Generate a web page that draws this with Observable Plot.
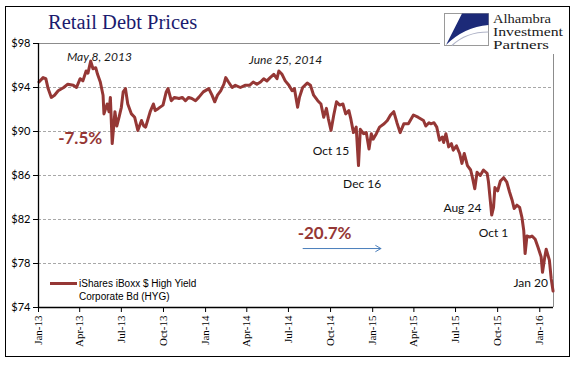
<!DOCTYPE html>
<html>
<head>
<meta charset="utf-8">
<script src="https://cdn.jsdelivr.net/npm/d3@7"></script>
<script src="https://cdn.jsdelivr.net/npm/@observablehq/plot@0.6"></script>
<style>
  body { margin: 0; background: #fff; }
  #wrap { position: relative; width: 577px; height: 378px; overflow: hidden; background: #fff; }
  #chart { position: absolute; left: 0; top: 0; }
  #frame { position: absolute; left: 5px; top: 6px; width: 565px; height: 351px; border: 1.5px solid #000; box-sizing: border-box; pointer-events: none; }
  #title { position: absolute; left: 48px; top: 10px; font-family: "Liberation Serif", serif; font-size: 20.5px; line-height: 24px; color: #1b1b6e; white-space: nowrap; }
  #logo { position: absolute; left: 440px; top: 8px; }
  #legline { position: absolute; left: 50px; top: 282px; width: 27px; height: 3px; background: #953735; }
  #legtext { position: absolute; left: 79px; top: 277px; font-family: "Liberation Sans", Arial, sans-serif; font-size: 10px; line-height: 13px; color: #000; white-space: nowrap; }
  svg [aria-label^="x-axis"] text { font-family: "Liberation Serif", serif; font-size: 11px; }
  svg [aria-label^="y-axis"] text { font-family: Lato, sans-serif; font-size: 11px; }
</style>
</head>
<body>
<div id="wrap">
  <div id="chart"></div>
  <div id="title">Retail Debt Prices</div>
  <svg id="logo" width="132" height="46">
    <rect x="0" y="0" width="132" height="46" fill="#fff"></rect>
    <rect x="4.5" y="5.5" width="44" height="32" fill="#fff" stroke="#9a9a9a" stroke-width="1"></rect>
    <path d="M22,5.5 L48.5,5.5 L48.5,17 Q24,19 6,37 Z" fill="#1c2a78"></path>
    <path d="M12,37.5 Q26,24 48.5,24" fill="none" stroke="#b0b4c8" stroke-width="1.2"></path>
    <text x="53" y="14.5" font-family="Liberation Serif, serif" font-size="12" fill="#1a1a1a" textLength="58" lengthAdjust="spacingAndGlyphs">Alhambra</text>
    <text x="53" y="27.8" font-family="Liberation Serif, serif" font-size="12" fill="#1a1a1a" textLength="70" lengthAdjust="spacingAndGlyphs">Investment</text>
    <text x="53" y="41.1" font-family="Liberation Serif, serif" font-size="12" fill="#1a1a1a" textLength="56" lengthAdjust="spacingAndGlyphs">Partners</text>
  </svg>
  <div id="legline"></div>
  <div id="legtext">iShares iBoxx $ High Yield<br>Corporate Bd (HYG)</div>
  <div id="frame"></div>
</div>
<script>
// ---- data ----
const dates = [
  "2013-01-02","2013-01-11","2013-01-17","2013-01-22","2013-01-29","2013-02-05","2013-02-13","2013-02-25",
  "2013-03-06","2013-03-18","2013-03-25","2013-04-02","2013-04-08","2013-04-15","2013-04-19","2013-04-25",
  "2013-04-30","2013-05-06","2013-05-10","2013-05-16","2013-05-22","2013-05-24","2013-05-31","2013-06-04",
  "2013-06-07","2013-06-11","2013-06-17","2013-06-21","2013-06-26","2013-07-01","2013-07-05","2013-07-10",
  "2013-07-15","2013-07-23","2013-07-30","2013-08-06","2013-08-14","2013-08-19","2013-08-23","2013-09-02",
  "2013-09-09","2013-09-13","2013-09-20","2013-09-30","2013-10-07","2013-10-11","2013-10-18","2013-10-25",
  "2013-11-04","2013-11-11","2013-11-18","2013-11-25","2013-12-02","2013-12-10","2013-12-17","2013-12-27",
  "2014-01-08","2014-01-15","2014-01-21","2014-01-27","2014-02-03","2014-02-10","2014-02-14","2014-02-20",
  "2014-02-28","2014-03-07","2014-03-18","2014-03-28","2014-04-07","2014-04-15","2014-04-23","2014-05-01",
  "2014-05-08","2014-05-15","2014-05-22","2014-05-30","2014-06-06","2014-06-10","2014-06-17","2014-06-24",
  "2014-07-02","2014-07-09","2014-07-14","2014-07-21","2014-07-25","2014-08-01","2014-08-11","2014-08-18",
  "2014-08-25","2014-09-03","2014-09-10","2014-09-16","2014-09-22","2014-09-26","2014-10-02","2014-10-08",
  "2014-10-14","2014-10-21","2014-10-28","2014-11-03","2014-11-10","2014-11-14","2014-11-20","2014-11-26",
  "2014-12-01","2014-12-05","2014-12-12","2014-12-18","2014-12-24","2014-12-29",
  "2015-01-02","2015-01-09","2015-01-16","2015-01-26","2015-02-02","2015-02-09","2015-02-16","2015-02-23",
  "2015-03-02","2015-03-10","2015-03-20","2015-03-31","2015-04-10","2015-04-22","2015-04-27","2015-05-04",
  "2015-05-08","2015-05-15","2015-05-21","2015-05-27","2015-06-02","2015-06-05","2015-06-10","2015-06-16",
  "2015-06-22","2015-06-26","2015-07-03","2015-07-10","2015-07-15","2015-07-20","2015-07-27","2015-08-03",
  "2015-08-07","2015-08-12","2015-08-17","2015-08-24","2015-08-31","2015-09-08","2015-09-11","2015-09-15",
  "2015-09-18","2015-09-22","2015-09-25","2015-10-01","2015-10-07","2015-10-14","2015-10-21","2015-10-27",
  "2015-11-02","2015-11-06","2015-11-12","2015-11-18","2015-11-23","2015-11-27","2015-11-30","2015-12-04",
  "2015-12-10","2015-12-15","2015-12-22","2015-12-28",
  "2016-01-04","2016-01-07","2016-01-12","2016-01-15","2016-01-22","2016-01-26","2016-01-30"
];
const prices = [
  94.5,94.9,94.8,93.9,93.1,93.3,93.7,94.0,
  94.3,94.2,94.0,94.8,94.6,95.5,95.3,96.4,
  95.7,95.8,95.2,94.5,93.3,91.6,92.5,91.8,
  93.1,88.9,91.8,90.5,91.3,92.2,93.6,93.9,
  92.5,91.6,91.3,90.1,91.0,90.5,90.4,91.8,
  92.5,91.9,92.1,92.4,93.6,93.9,92.8,93.1,
  93.0,93.1,92.8,93.1,93.0,92.8,93.1,93.6,
  93.9,93.3,92.7,93.3,93.7,94.3,94.9,94.5,
  94.0,94.2,94.0,94.2,94.2,94.5,94.3,94.5,
  94.8,94.6,94.9,95.2,94.8,95.5,95.2,94.6,
  94.2,93.7,93.9,92.2,93.1,94.0,94.4,94.2,
  93.3,92.8,92.5,91.3,92.1,91.2,90.1,91.5,
  92.7,92.4,92.5,91.6,91.9,91.2,89.9,90.4,
  86.9,90.2,89.8,89.9,88.4,89.8,
  89.3,89.8,90.4,90.7,91.0,91.5,91.8,90.8,
  89.9,90.7,90.7,91.5,91.3,91.0,90.5,90.8,
  90.7,90.8,90.4,89.2,89.5,89.0,89.8,88.6,
  88.9,88.3,88.7,88.0,87.1,88.0,86.9,86.5,
  85.8,84.8,86.3,86.0,86.5,86.2,85.4,83.7,
  82.4,83.1,84.9,84.6,85.5,85.8,85.4,84.5,
  83.7,83.0,83.3,83.1,82.2,81.0,78.9,80.5,
  80.4,80.5,80.2,79.5,
  78.6,77.2,78.6,79.3,78.3,76.6,75.5
];
const xTickLabels = ["2013-01-01","2013-04-01","2013-07-01","2013-10-01","2014-01-01","2014-04-01","2014-07-01",
  "2014-10-01","2015-01-01","2015-04-01","2015-07-01","2015-10-01","2016-01-01"];
const yTicks = [74, 78, 82, 86, 90, 94, 98];
const gridValues = [78, 82, 86, 90, 94];
const xRange = ["2013-01-01", "2016-01-31"];

const peakLabels = ["May 8, 2013", "June 25, 2014"];
const peakDates = ["2013-05-14", "2014-06-25"];
const peakValues = [96.8, 96.45];

const eventLabels = ["Oct 15", "Dec 16", "Aug 24", "Oct 1", "Jan 20"];
const eventDates = ["2014-10-02", "2014-12-09", "2015-07-16", "2015-09-22", "2015-12-12"];
const eventValues = [88.18, 85.18, 83.0, 80.73, 76.18];

const pctLabels = ["-7.5%", "-20.7%"];
const pctDates = ["2013-04-02", "2014-09-18"];
const pctValues = [89.36, 80.73];

const arrowFrom = "2014-08-02", arrowTo = "2015-01-19", arrowValue = 79.36;

// ---- build ----
const P = s => new Date(s + "T00:00:00Z");
const series = dates.map((d, i) => ({date: P(d), price: prices[i]}));
const peaks = peakLabels.map((t, i) => ({label: t, date: P(peakDates[i]), value: peakValues[i]}));
const events = eventLabels.map((t, i) => ({label: t, date: P(eventDates[i]), value: eventValues[i]}));
const pcts = pctLabels.map((t, i) => ({label: t, date: P(pctDates[i]), value: pctValues[i]}));
const arrows = [{x1: P(arrowFrom), x2: P(arrowTo), y: arrowValue}];
const xStart = P(xRange[0]), xEnd = P(xRange[1]);

const chart = Plot.plot({
  width: 577,
  height: 378,
  marginTop: 43,
  marginBottom: 71,
  marginLeft: 38,
  marginRight: 24,
  style: {fontFamily: "Lato, sans-serif", fontSize: "11px", color: "#000", background: "transparent"},
  x: {type: "utc", domain: [xStart, xEnd], ticks: xTickLabels.map(P), tickFormat: d3.utcFormat("%b-%y"),
      tickRotate: -90, tickSize: 5, tickPadding: 3, label: null},
  y: {domain: [74, 98], ticks: yTicks, tickFormat: d => "$" + d, tickSize: 5, tickPadding: 3, label: null},
  marks: [
    Plot.ruleY(gridValues, {stroke: "#a8a8a8", strokeDasharray: "3,2", strokeWidth: 1}),
    Plot.ruleY([98], {stroke: "#8c8c8c", strokeWidth: 1}),
    Plot.ruleX([xEnd], {stroke: "#8c8c8c", strokeWidth: 1}),
    Plot.line(series, {x: "date", y: "price", stroke: "#953735", strokeWidth: 3, strokeLinejoin: "round", strokeLinecap: "round"}),
    Plot.ruleX([xStart], {stroke: "#000", strokeWidth: 1.3}),
    Plot.ruleY([74], {stroke: "#000", strokeWidth: 1.3}),
    Plot.text(peaks, {x: "date", y: "value", text: "label", fontStyle: "italic", fontSize: 12, fill: "#1a1a1a"}),
    Plot.text(events, {x: "date", y: "value", text: "label", fontSize: 12, fill: "#111"}),
    Plot.text(pcts, {x: "date", y: "value", text: "label", fontSize: 17, fontWeight: "bold", fill: "#953735"}),
    Plot.arrow(arrows, {x1: "x1", x2: "x2", y1: "y", y2: "y", stroke: "#4a7ebb", strokeWidth: 1, headLength: 9, bend: 0})
  ]
});
document.getElementById("chart").appendChild(chart);
</script>
</body>
</html>
